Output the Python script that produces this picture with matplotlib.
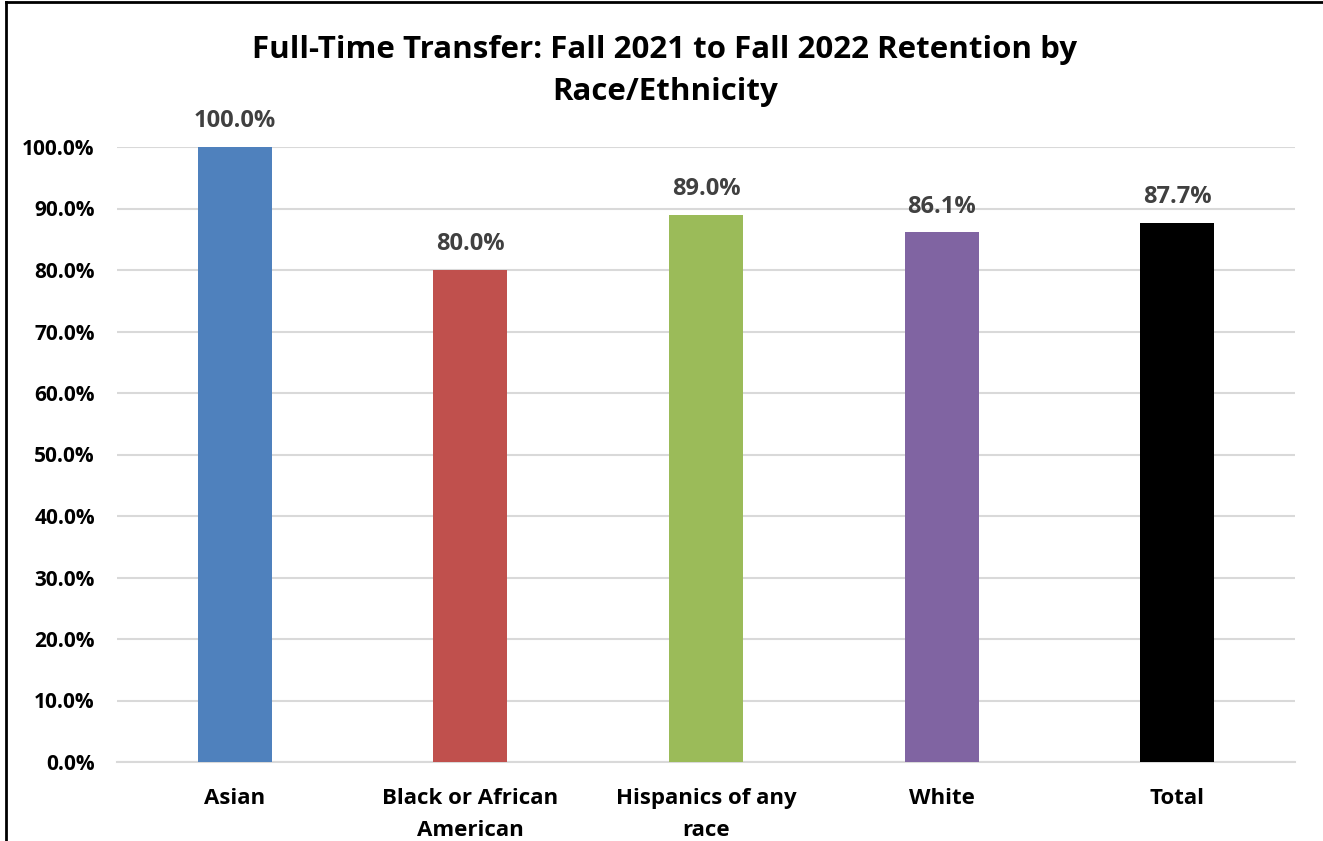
import matplotlib
matplotlib.use("Agg")
import matplotlib.pyplot as plt
from matplotlib.ticker import FuncFormatter, MultipleLocator
from matplotlib.lines import Line2D

categories = ["Asian", "Black or African\nAmerican", "Hispanics of any\nrace", "White", "Total"]
values = [100.0, 80.0, 89.0, 86.1, 87.7]
colors = ["#4f81bd", "#c0504d", "#9bbb59", "#8064a2", "#000000"]
title = "Full-Time Transfer: Fall 2021 to Fall 2022 Retention by\nRace/Ethnicity"

plt.rcParams['font.family'] = ['Open Sans', 'DejaVu Sans']

W, H = 1323, 841
fig = plt.figure(figsize=(W / 100, H / 100), dpi=100)
ax = fig.add_axes([117 / W, 1 - 762 / H, (1295 - 117) / W, (762 - 147) / H])

x = list(range(len(categories)))
ax.bar(x, values, width=0.314, color=colors, zorder=3)
ax.set_xlim(-0.5, len(categories) - 0.5)
ax.set_ylim(0, 100)
ax.yaxis.set_major_locator(MultipleLocator(10))
ax.yaxis.set_major_formatter(FuncFormatter(lambda v, p: f"{v:.1f}%"))
ax.grid(axis='y', color='#d9d9d9', linewidth=1.5, zorder=0)
for s in ['top', 'right', 'left']:
    ax.spines[s].set_visible(False)
ax.spines['bottom'].set_color('#d9d9d9')
ax.spines['bottom'].set_linewidth(1.5)
ax.tick_params(axis='both', length=0)
ax.tick_params(axis='y', pad=16)
ax.tick_params(axis='x', pad=19)
ax.set_xticks(x)
ax.set_xticklabels(categories, fontsize=16, fontweight='bold', linespacing=1.65, va='top')
for lbl in ax.get_yticklabels():
    lbl.set_fontsize(15)
    lbl.set_fontweight('bold')

for xi, v in zip(x, values):
    ax.annotate(f"{v:.1f}%", (xi, v), xytext=(0, 10), textcoords='offset points',
                ha='center', va='bottom', fontsize=17, fontweight='bold', color='#404040')

fig.text(665 / W, 1 - 71 / H, title, ha='center', va='center', fontsize=22.5,
         fontweight='bold', linespacing=1.5)

# chart border (left and top)
fig.add_artist(Line2D([6 / W, 6 / W], [0, 1 - 2 / H], transform=fig.transFigure, color='black', linewidth=2))
fig.add_artist(Line2D([6 / W, 1], [1 - 2 / H, 1 - 2 / H], transform=fig.transFigure, color='black', linewidth=2))

fig.savefig("out.png", dpi=100)
